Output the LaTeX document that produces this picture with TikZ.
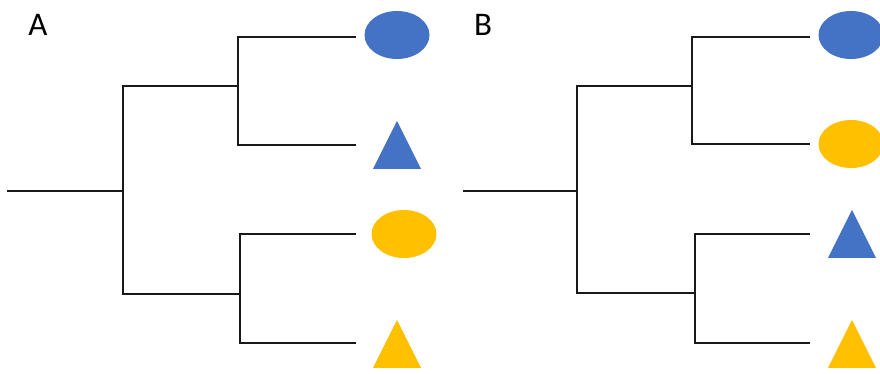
\documentclass[tikz,border=0pt]{standalone}
\usepackage{fontspec}
\setmainfont{Carlito}
\usetikzlibrary{shapes.geometric}
\definecolor{leafblue}{HTML}{4472C4}
\definecolor{leafgold}{HTML}{FFC000}
\tikzset{
  branch/.style={line width=2.4pt, black!90, line join=miter},
  oval/.style={ellipse, fill=#1, draw=none, minimum width=65pt, minimum height=48pt, inner sep=0pt},
  tri/.style={isosceles triangle, isosceles triangle stretches, shape border rotate=90,
    fill=#1, draw=none, minimum width=48pt, minimum height=48pt, inner sep=0pt, anchor=south},
  panel/.style={font=\fontsize{33}{36}\selectfont, inner sep=0pt}
}
\begin{document}
\begin{tikzpicture}[x=1pt, y=-1pt]
\useasboundingbox (0,0) rectangle (880,373);

% ---------- tree A ----------
\node[panel] (labA) at (38,25) {A};
\coordinate (aR) at (7,191);
\coordinate (aN) at (123,191);
\coordinate (aU) at (238,86);
\coordinate (aL) at (240,294);
\coordinate (a1) at (356,37);
\coordinate (a2) at (356,145);
\coordinate (a3) at (356,234);
\coordinate (a4) at (356,343);
\draw[branch] (aR) -- (aN);
\draw[branch] (aU) -| (aN) |- (aL);
\draw[branch] (a1) -| (aU) |- (a2);
\draw[branch] (a3) -| (aL) |- (a4);
\node[oval=leafblue] (aBlueOval) at (397,35) {};
\node[tri=leafblue] (aBlueTri) at (397,169) {};
\node[oval=leafgold] (aGoldOval) at (404,234) {};
\node[tri=leafgold] (aGoldTri) at (397,368) {};

% ---------- tree B ----------
\node[panel] (labB) at (483,25) {B};
\coordinate (bR) at (463,191);
\coordinate (bN) at (577,191);
\coordinate (bU) at (692,86);
\coordinate (bL) at (695,293);
\coordinate (b1) at (810,37);
\coordinate (b2) at (810,144);
\coordinate (b3) at (810,234);
\coordinate (b4) at (810,343);
\draw[branch] (bR) -- (bN);
\draw[branch] (bU) -| (bN) |- (bL);
\draw[branch] (b1) -| (bU) |- (b2);
\draw[branch] (b3) -| (bL) |- (b4);
\node[oval=leafblue] (bBlueOval) at (851,35) {};
\node[oval=leafgold] (bGoldOval) at (851,144) {};
\node[tri=leafblue] (bBlueTri) at (852,258) {};
\node[tri=leafgold] (bGoldTri) at (852,368) {};
\end{tikzpicture}
\end{document}
